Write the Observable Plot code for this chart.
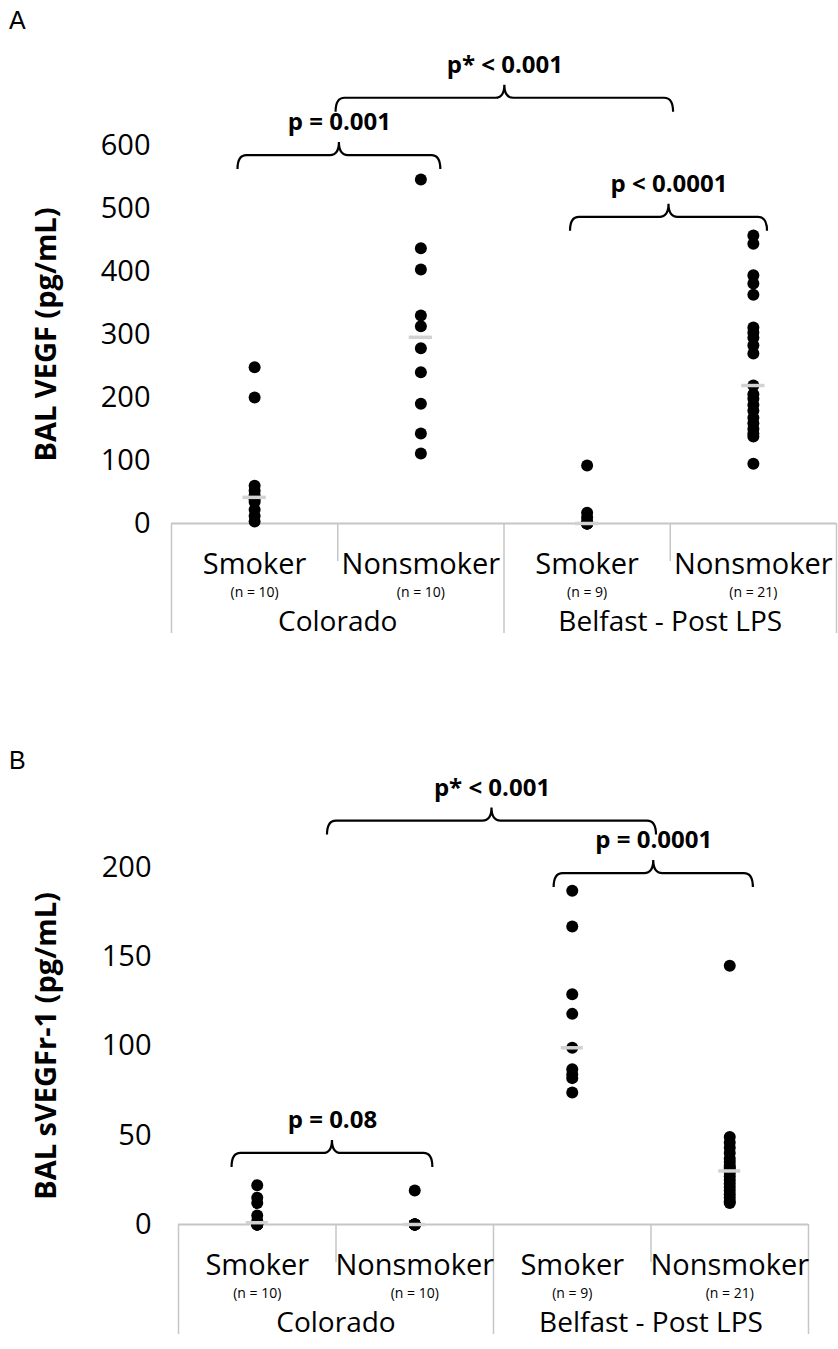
<!DOCTYPE html>
<html><head><meta charset="utf-8">
<script src="https://cdn.jsdelivr.net/npm/d3@7"></script>
<script src="https://cdn.jsdelivr.net/npm/@observablehq/plot@0.6"></script>
<style>
body{margin:0;background:#fff;}
#wrap{position:relative;width:838px;height:1349px;font-family:"Open Sans",sans-serif;overflow:hidden;}
.panel{position:absolute;left:0;}
.letter{position:absolute;left:9px;font:25px "Liberation Sans",Arial,sans-serif;color:#000;}
</style></head><body><div id="wrap"></div>
<script>
// ---- categories / labels ----
const categories = ["Smoker", "Nonsmoker", "Smoker", "Nonsmoker"];
const nLabels = ["(n = 10)", "(n = 10)", "(n = 9)", "(n = 21)"];
const groups = ["Colorado", "Belfast - Post LPS"];

// ---- Panel A: BAL VEGF (pg/mL) ----
const vegfColoradoSmoker = [248, 200, 60, 52, 45, 38, 34, 22, 12, 3];
const vegfColoradoNonsmoker = [546, 437, 403, 330, 313, 278, 240, 190, 143, 111];
const vegfBelfastSmoker = [92, 17, 10, 3, 0, 0, 0, 0, 0];
const vegfBelfastNonsmoker = [457, 444, 394, 381, 363, 311, 303, 295, 283, 270, 219, 205, 198, 188, 179, 168, 159, 150, 143, 138, 95];
const vegfTicks = [0, 100, 200, 300, 400, 500, 600];
const vegfBrackets = [
  {x1: 0.4, x2: 1.62, y: 584, label: "p = 0.001"},
  {x1: 0.99, x2: 3.02, y: 675, label: "p* < 0.001"},
  {x1: 2.4, x2: 3.585, y: 486, label: "p < 0.0001"}
];

// ---- Panel B: BAL sVEGFr-1 (pg/mL) ----
const svegfColoradoSmoker = [22, 15, 12, 5, 2, 0, 0, 0, 0, 0];
const svegfColoradoNonsmoker = [19, 0, 0, 0, 0, 0, 0, 0, 0, 0];
const svegfBelfastSmoker = [187, 167, 129, 118, 99, 87, 84, 82, 74];
const svegfBelfastNonsmoker = [145, 49, 46, 43, 40, 37, 35, 33, 32, 31, 30, 29, 27, 25, 23, 21, 19, 17, 15, 13, 12];
const svegfTicks = [0, 50, 100, 150, 200];
const svegfBrackets = [
  {x1: 0.946, x2: 3.035, y: 226, label: "p* < 0.001"},
  {x1: 2.385, x2: 3.65, y: 196.6, label: "p = 0.0001"},
  {x1: 0.34, x2: 1.615, y: 39.8, label: "p = 0.08"}
];

function flatten(series) {
  const out = [];
  series.forEach((vals, i) => vals.forEach(v => out.push({i, v})));
  return out;
}

function panel(cfg) {
  const {series, yMax, ticks, yLabel, brackets, height, marginTop, marginBottom, marginLeft, marginRight, tickPadding, titleDx} = cfg;
  const width = 838;
  const pts = flatten(series);
  const med = series.map((vals, i) => ({i, m: d3.median(vals)}));
  const cats = categories.map((c, i) => ({i, c, n: nLabels[i]}));
  const grp = groups.map((g, k) => ({k, g}));
  const kPx = (height - marginTop - marginBottom) / yMax;
  const below = px => -px / kPx;
  const braceMark = (index, scales) => {
    const g = d3.create("svg:g").attr("fill", "none").attr("stroke", "#000").attr("stroke-width", 2.2);
    const h = 14, t = 13, r = 9;
    for (const b of brackets) {
      const X1 = scales.x(b.x1), X2 = scales.x(b.x2), Xm = scales.x((b.x1 + b.x2) / 2), Y = scales.y(b.y);
      g.append("path").attr("d",
        `M${X1},${Y + h} Q${X1},${Y} ${X1 + r},${Y} L${Xm - r},${Y} Q${Xm},${Y} ${Xm},${Y - t} Q${Xm},${Y} ${Xm + r},${Y} L${X2 - r},${Y} Q${X2},${Y} ${X2},${Y + h}`);
    }
    return g.node();
  };
  return Plot.plot({
    width, height, marginTop, marginBottom, marginLeft, marginRight,
    style: {fontFamily: "'Open Sans', sans-serif", fontSize: "29px", color: "#000", background: "#fff", overflow: "visible"},
    x: {domain: [0, 4], axis: null},
    y: {domain: [0, yMax], axis: null},
    marks: [
      Plot.axisY({ticks, tickSize: 0, tickPadding, fontSize: 29, label: null, tickFormat: d => d}),
      Plot.ruleY([0], {x1: 0, x2: 4, stroke: "#c6c6c6", strokeWidth: 2}),
      Plot.ruleX([0, 2, 4], {x: d => d, y1: 0, y2: below(110), stroke: "#c6c6c6", strokeWidth: 1.5}),
      Plot.ruleX([1, 3], {x: d => d, y1: 0, y2: below(38), stroke: "#c6c6c6", strokeWidth: 1.5}),
      Plot.text(cats, {x: d => d.i + 0.5, y: 0, dy: 41, text: "c", fontSize: 29}),
      Plot.text(cats, {x: d => d.i + 0.5, y: 0, dy: 69.5, text: "n", fontSize: 14}),
      Plot.text(grp, {x: d => d.k * 2 + 1, y: 0, dy: 99, text: "g", fontSize: 28}),
      Plot.text([yLabel], {frameAnchor: "left", textAnchor: "middle", dx: titleDx, rotate: -90, text: d => d, fontSize: 29, fontWeight: "bold"}),
      Plot.dot(pts, {x: d => d.i + 0.5, y: "v", r: 6, fill: "#000", stroke: "none"}),
      Plot.ruleY(med, {y: "m", x1: d => d.i + 0.43, x2: d => d.i + 0.57, stroke: "#d2d2d2", strokeWidth: 3.5}),
      braceMark,
      Plot.text(brackets, {x: d => (d.x1 + d.x2) / 2, y: "y", dy: -33, text: "label", fontSize: 24, fontWeight: "bold"})
    ]
  });
}

const wrap = document.getElementById("wrap");

const a = panel({
  series: [vegfColoradoSmoker, vegfColoradoNonsmoker, vegfBelfastSmoker, vegfBelfastNonsmoker],
  yMax: 600, ticks: vegfTicks, yLabel: "BAL VEGF (pg/mL)", brackets: vegfBrackets,
  height: 640, marginTop: 145, marginBottom: 117, marginLeft: 171, marginRight: 2, tickPadding: 21, titleDx: -125
});
a.classList.add("panel"); a.style.top = "0px";
wrap.appendChild(a);

const b = panel({
  series: [svegfColoradoSmoker, svegfColoradoNonsmoker, svegfBelfastSmoker, svegfBelfastNonsmoker],
  yMax: 200, ticks: svegfTicks, yLabel: "BAL sVEGFr-1 (pg/mL)", brackets: svegfBrackets,
  height: 627, marginTop: 145, marginBottom: 125, marginLeft: 178, marginRight: 30, tickPadding: 27, titleDx: -132
});
b.classList.add("panel"); b.style.top = "722px";
wrap.appendChild(b);

const la = document.createElement("div"); la.className = "letter"; la.textContent = "A"; la.style.top = "6px"; wrap.appendChild(la);
const lb = document.createElement("div"); lb.className = "letter"; lb.textContent = "B"; lb.style.top = "746px"; wrap.appendChild(lb);
</script></body></html>
